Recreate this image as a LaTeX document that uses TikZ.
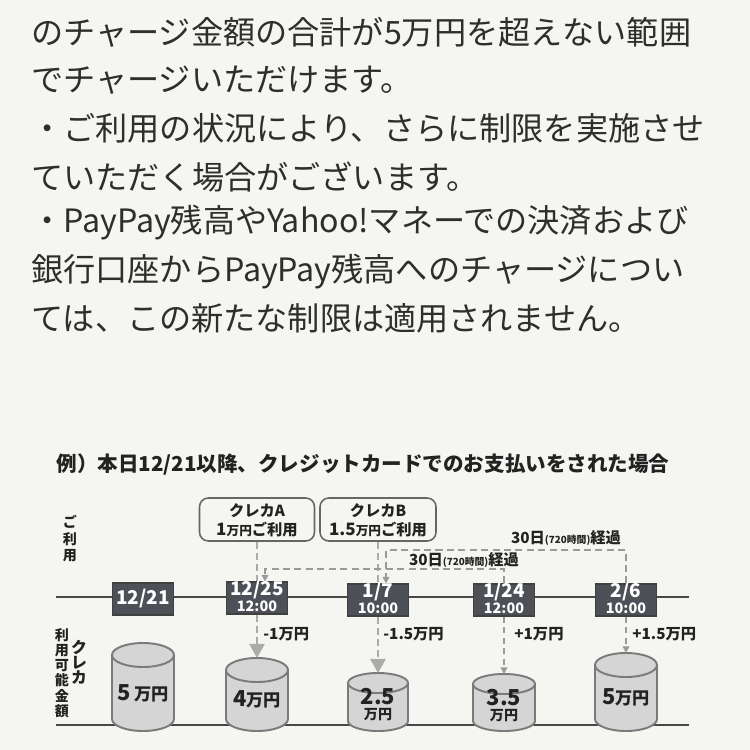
\documentclass[tikz,border=0pt]{standalone}
\usepackage{fontspec}
\setmainfont{Noto Sans CJK JP}
\usetikzlibrary{arrows.meta}
\definecolor{bg}{HTML}{F5F5F1}
\definecolor{txt}{HTML}{2E2E2E}
\definecolor{dk}{HTML}{222222}
\definecolor{datefill}{HTML}{4E5058}
\definecolor{cylfill}{HTML}{D5D5D5}
\definecolor{cylline}{HTML}{7A7A7A}
\definecolor{dashA}{HTML}{ABABAB}
\definecolor{dashB}{HTML}{9A9A9A}
\newcommand{\myfs}[1]{\fontsize{#1}{#1}\selectfont}
\newcommand{\mycyl}[6]{%
  \path[fill=cylfill,draw=cylline,line width=1.1pt]
    (#2-#5,#3+#6) -- (#2-#5,#4-#6)
    arc[start angle=180,end angle=0,x radius=#5,y radius=#6]
    -- (#2+#5,#3+#6) -- cycle;
  \path[fill=cylfill,draw=cylline,line width=1.1pt] (#2,#3+#6) ellipse[x radius=#5,y radius=#6];
  \coordinate (#1) at (#2,#3);}
\tikzset{
  para/.style={anchor=west,inner sep=0pt,text=txt,font=\myfs{18.3pt}},
  datebox/.style={draw=black!75,fill=datefill,line width=0.6pt,minimum width=1.22cm,minimum height=0.64cm,inner sep=0pt},
  datebig/.style={inner sep=0pt,text=white,font=\bfseries\myfs{10.8pt}},
  datesmall/.style={inner sep=0pt,text=white,font=\bfseries\myfs{8.2pt}},
  usebox/.style={draw=black!60,fill=bg,rounded corners=5pt,line width=0.9pt,minimum width=2.3cm,minimum height=0.86cm,inner sep=0pt},
  lbl/.style={inner sep=0pt,text=dk,font=\bfseries\myfs{8.7pt}},
  thickdash/.style={draw=dashA,line width=1.7pt,dash pattern=on 4pt off 2.3pt},
  thindash/.style={draw=dashB,line width=0.9pt,dash pattern=on 3.5pt off 2.5pt},
  daydash/.style={draw=dashB,line width=1.2pt,dash pattern=on 4pt off 2.5pt},
  bighead/.style={-{Triangle[width=8.5pt,length=8pt]}},
  smallhead/.style={-{Triangle[width=3.8pt,length=3.8pt]}},
  tline/.style={draw=black!72,line width=1.1pt},
  vlab/.style={inner sep=0pt,text=dk,align=center},
}
\begin{document}
\begin{tikzpicture}[x=0.02cm,y=-0.02cm]
\useasboundingbox (0,0) rectangle (750,750);
\fill[bg] (0,0) rectangle (750,750);

% paragraph
\node[para] (t1) at (31,32) {のチャージ金額の合計が5万円を超えない範囲};
\node[para] (t2) at (31,80) {でチャージいただけます。};
\node[para] (t3) at (31,128) {・ご利用の状況により、さらに制限を実施させ};
\node[para] (t4) at (31,177) {ていただく場合がございます。};
\node[para] (t5) at (31,223) {・PayPay残高やYahoo!マネーでの決済および};
\node[para] (t6) at (31,272) {銀行口座からPayPay残高へのチャージについ};
\node[para] (t7) at (31,318) {ては、この新たな制限は適用されません。};

% title
\node[inner sep=0pt,text=dk,font=\bfseries\myfs{11.7pt}] (title) at (363,465)
  {例）本日12/21以降、クレジットカードでのお支払いをされた場合};

% side labels
\node[vlab,font=\bfseries\fontsize{8pt}{9.4pt}\selectfont] (lu) at (70,539) {ご\\利\\用};
\node[vlab,font=\bfseries\fontsize{8pt}{8.7pt}\selectfont] (lk1) at (62,673) {利\\用\\可\\能\\金\\額};
\node[vlab,font=\bfseries\fontsize{9pt}{8.6pt}\selectfont] (lk2) at (79,662) {ク\\レ\\カ};

% timeline lines
\coordinate (l1a) at (56,597); \coordinate (l1b) at (689,597);
\coordinate (l2a) at (56,725); \coordinate (l2b) at (689,725);
\draw[tline] (l1a) -- (l1b);
\draw[tline] (l2a) -- (l2b);

% usage boxes
\node[usebox] (ba) at (257,519.5) {};
\node[lbl] (ba1) at (257,511) {クレカA};
\node[lbl] (ba2) at (257,530) {{\myfs{9.7pt}1}{\myfs{7.2pt}万円}ご利用};
\node[usebox,minimum width=2.32cm] (bb) at (378,519.5) {};
\node[lbl] (bb1) at (378,511) {クレカB};
\node[lbl] (bb2) at (378,530) {{\myfs{9.7pt}1.5}{\myfs{7.2pt}万円}ご利用};

% date boxes
\node[datebox] (d1) at (143,599) {};
\node[datebig] (d1a) at (143,599) {12/21};
\node[datebox] (d2) at (257,598) {};
\node[datebig] (d2a) at (257,590) {12/25};
\node[datesmall] (d2b) at (257,606) {12:00};
\node[datebox] (d3) at (378,600) {};
\node[datebig] (d3a) at (378,592) {1/7};
\node[datesmall] (d3b) at (378,608) {10:00};
\node[datebox] (d4) at (504,600) {};
\node[datebig] (d4a) at (504,592) {1/24};
\node[datesmall] (d4b) at (504,608) {12:00};
\node[datebox] (d5) at (626,600) {};
\node[datebig] (d5a) at (626,592) {2/6};
\node[datesmall] (d5b) at (626,608) {10:00};

% usage to date
\draw[thickdash] (ba.south) -- (d2.north);
\draw[thickdash] (bb.south) -- (d3.north);

% 30-day paths
\coordinate (p1) at (265,569);
\coordinate (p2) at (386,550);
\draw[daydash,smallhead] (d4.north) |- (p1) -- (p1 |- d2.north);
\draw[daydash,smallhead] (d5.north) |- (p2) -- (p2 |- d3.north);
\node[lbl] (g1) at (566,538) {30日{\myfs{5.6pt}(720時間)}経過};
\node[lbl] (g2) at (464,560) {30日{\myfs{5.6pt}(720時間)}経過};

% cylinders
\mycyl{c1}{143}{643}{731}{31}{12}
\mycyl{c2}{257}{658}{731}{31}{12}
\mycyl{c3}{378}{673}{731}{30}{10}
\mycyl{c4}{504}{674}{731}{31}{10}
\mycyl{c5}{626}{653}{731}{31}{12}

\node[lbl,font=\bfseries\myfs{9.8pt}] (c1t) at (143,693) {{\myfs{12.5pt}5} 万円};
\node[lbl,font=\bfseries\myfs{9.8pt}] (c2t) at (257,699) {{\myfs{12.5pt}4}万円};
\node[lbl,font=\bfseries\myfs{12.5pt}] (c3t) at (378,697) {2.5};
\node[lbl,font=\bfseries\myfs{8pt}] (c3u) at (378,715) {万円};
\node[lbl,font=\bfseries\myfs{12.5pt}] (c4t) at (504,698) {3.5};
\node[lbl,font=\bfseries\myfs{8pt}] (c4u) at (504,716) {万円};
\node[lbl,font=\bfseries\myfs{9.8pt}] (c5t) at (626,697) {{\myfs{12.5pt}5}万円};

% date to cylinder
\draw[thickdash,bighead] (d2.south) -- (c2);
\draw[thickdash,bighead] (d3.south) -- (c3);
\draw[thindash,smallhead] (d4.south) -- (c4);
\draw[thindash,smallhead] (d5.south) -- (c5);

\node[lbl,anchor=west] (m1) at (263,634) {-1万円};
\node[lbl,anchor=west] (m2) at (383,634) {-1.5万円};
\node[lbl,anchor=west] (m3) at (514,634) {+1万円};
\node[lbl,anchor=west] (m4) at (632,634) {+1.5万円};
\end{tikzpicture}
\end{document}
